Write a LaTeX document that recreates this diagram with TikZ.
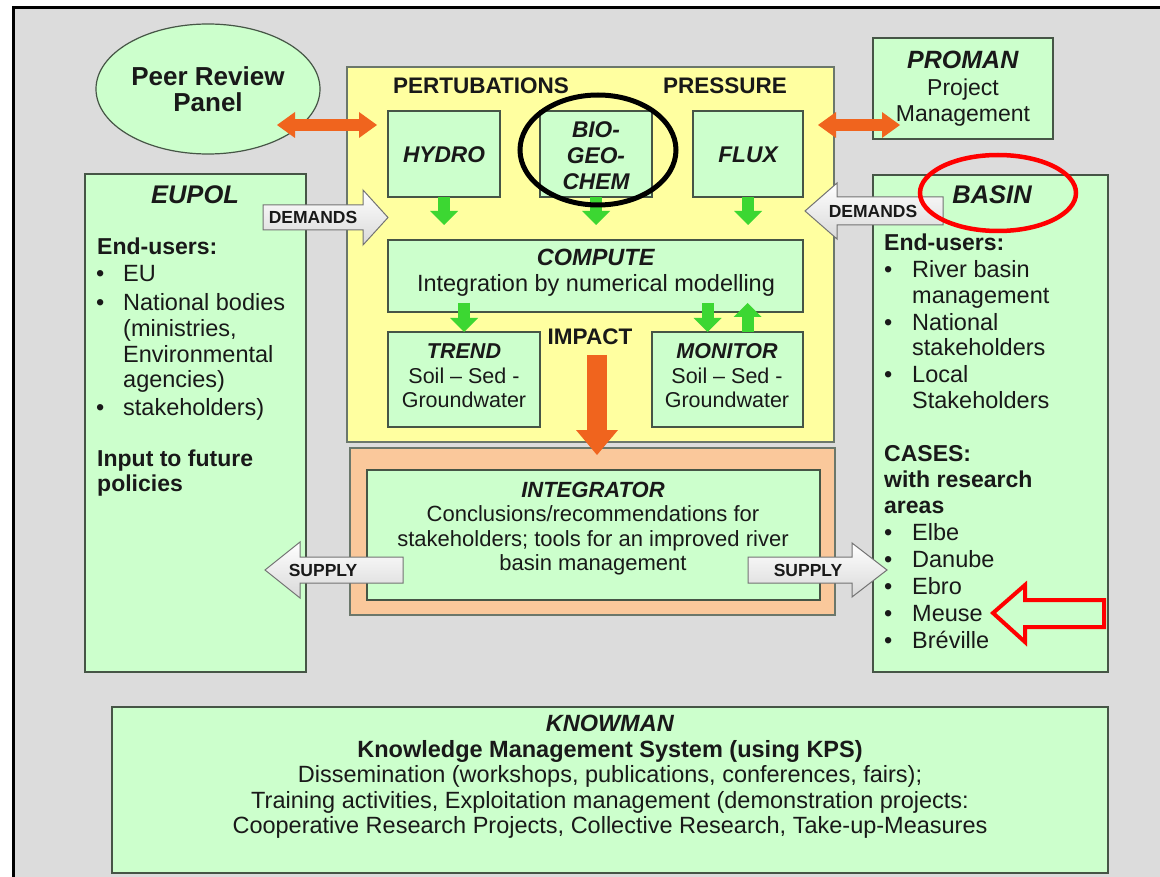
\documentclass[tikz,border=0pt]{standalone}
\usepackage{fontspec}
\setmainfont{Liberation Sans}
\usetikzlibrary{arrows.meta,fit,shapes.geometric}
\definecolor{bggray}{RGB}{220,220,220}
\definecolor{lgreen}{RGB}{204,255,204}
\definecolor{pyellow}{RGB}{255,255,160}
\definecolor{porange}{RGB}{250,200,155}
\definecolor{borange}{RGB}{240,100,30}
\definecolor{bgreen}{RGB}{60,215,50}
\definecolor{edgecol}{RGB}{70,85,70}
\definecolor{txtcol}{RGB}{25,25,25}
\begin{document}
\begin{tikzpicture}[x=1pt,y=-1pt,
  every node/.style={text=txtcol},
  box/.style={draw=edgecol, line width=1.3pt, fill=lgreen, inner sep=0pt, outer sep=0pt},
  panel/.style={draw=edgecol!80, line width=1.2pt, inner sep=0pt, outer sep=0pt},
  ttl/.style={font=\fontsize{22.7}{26}\selectfont\bfseries\itshape, inner sep=0pt, align=center},
  bigttl/.style={font=\fontsize{25.5}{28}\selectfont\bfseries\itshape, inner sep=0pt},
  txt/.style={inner sep=0pt, align=center},
  lst/.style={font=\fontsize{23.5}{26}\selectfont, inner sep=0pt, anchor=base west},
  blst/.style={font=\fontsize{23}{26}\selectfont\bfseries, inner sep=0pt, anchor=base west},
  hdr/.style={font=\fontsize{22.5}{26}\selectfont\bfseries, inner sep=0pt},
  garrow/.style={draw=bgreen, line width=12pt, -{Triangle[width=28pt,length=14pt,line width=0pt]}},
  oarrow/.style={draw=borange, line width=12pt, {Triangle[width=26pt,length=18pt,line width=0pt]}-{Triangle[width=26pt,length=18pt,line width=0pt]}},
  iarrow/.style={draw=borange, line width=20pt, -{Triangle[width=42pt,length=25pt,line width=0pt]}},
  warrow/.style={draw=black!55, line width=1pt, top color=white, bottom color=black!15, line join=miter},
  wlabel/.style={font=\fontsize{17.5}{20}\selectfont\bfseries, inner sep=0pt}
]
\useasboundingbox (0,0) rectangle (1160,877);
% background
\fill[white] (0,0) rectangle (1160,877);
\fill[bggray] (14,8) rectangle (1160,877);
\draw[black, line width=3pt] (13.5,877) -- (13.5,8) -- (1160,8);

% panels
\node[panel, fill=pyellow, fit={(347,67) (834,442)}] (pert) {};
\node[panel, fill=porange, fit={(350,448) (835,615)}] (intpanel) {};
\node[hdr] (pertlab) at (481,86) {PERTUBATIONS};
\node[hdr] (preslab) at (725,86) {PRESSURE};
\node[hdr] (impact) at (590,337) {IMPACT};

% peer review
\node[ellipse, draw=edgecol, line width=1.2pt, fill=lgreen, minimum width=224pt, minimum height=130pt, inner sep=0pt, align=center, font=\fontsize{26}{26}\selectfont\bfseries] (peer) at (208,89) {Peer Review\\Panel};

% inner boxes
\node[box, fit={(388,111) (500,197)}] (hydro) {};
\node[box, fit={(540,111) (652,197)}] (bio) {};
\node[box, fit={(693,111) (803,197)}] (flux) {};
\node[ttl] (hydrotxt) at (444,155) {HYDRO};
\node[ttl] (biotxt) at (596,156) {BIO-\\GEO-\\CHEM};
\node[ttl] (fluxtxt) at (748,155) {FLUX};
\node[box, fit={(388,240) (803,312)}] (compute) {};
\node[txt, font=\fontsize{23.5}{26}\selectfont] (comptxt) at (596,273) {\textbf{\textit{COMPUTE}}\\Integration by numerical modelling};
\node[box, fit={(388,332) (540,427)}] (trend) {};
\node[box, fit={(652,332) (803,427)}] (monitor) {};
\node[txt, font=\fontsize{21.5}{24.5}\selectfont] (trendtxt) at (464,376) {\textbf{\textit{TREND}}\\Soil – Sed -\\Groundwater};
\node[txt, font=\fontsize{21.5}{24.5}\selectfont] (montxt) at (727,376) {\textbf{\textit{MONITOR}}\\Soil – Sed -\\Groundwater};
\node[box, fit={(367,470) (820,600)}] (integ) {};
\node[txt, font=\fontsize{22}{24.3}\selectfont] (integtxt) at (593,528.5) {\textbf{\textit{INTEGRATOR}}\\Conclusions/recommendations for\\stakeholders; tools for an improved river\\basin management};

% side boxes
\node[box, fit={(873,38) (1053,139)}] (proman) {};
\node[txt, font=\fontsize{23}{26.5}\selectfont] (promantxt) at (963,89) {{\fontsize{25}{26.5}\selectfont\textbf{\textit{PROMAN}}}\\Project\\Management};
\node[box, fit={(85,174) (306,672)}] (eupol) {};
\node[box, fit={(873,175) (1108,672)}] (basin) {};
\node[box, fit={(112,707) (1108,873)}] (knowman) {};
\node[txt, font=\fontsize{23.5}{25.5}\selectfont] (knowtxt) at (610,777) {\textbf{\textit{KNOWMAN}}\\\textbf{Knowledge Management System (using KPS)}\\Dissemination (workshops, publications, conferences, fairs);\\Training activities, Exploitation management (demonstration projects:\\Cooperative Research Projects, Collective Research, Take-up-Measures};

% EUPOL text
\node[bigttl] (eupolttl) at (195,195) {EUPOL};
\node[blst] (eu1) at (97,255) {End-users:};
\foreach \yy/\lbl [count=\i] in {282/EU, 311/National bodies, 416/stakeholders)}{
  \node[lst] (eub\i) at (96,\yy) {•};
  \node[lst] (eut\i) at (123,\yy) {\lbl};
}
\node[lst] (eu2) at (123,337) {(ministries,};
\node[lst] (eu3) at (123,363) {Environmental};
\node[lst] (eu4) at (123,388) {agencies)};
\node[blst] (eu5) at (97,466) {Input to future};
\node[blst] (eu6) at (97,491) {policies};

% BASIN text
\node[bigttl] (basinttl) at (992,195) {BASIN};
\node[blst] (ba1) at (884,251) {End-users:};
\foreach \yy/\lbl [count=\i] in {278/River basin, 331/National, 383/Local, 540/Elbe, 567/Danube, 594/Ebro, 621/Meuse, 648/Bréville}{
  \node[lst] (bab\i) at (884,\yy) {•};
  \node[lst] (bat\i) at (912,\yy) {\lbl};
}
\node[lst] (ba2) at (912,304) {management};
\node[lst] (ba3) at (912,356) {stakeholders};
\node[lst] (ba4) at (912,409) {Stakeholders};
\node[blst] (ba5) at (884,461) {CASES:};
\node[blst] (ba6) at (884,487) {with research};
\node[blst] (ba7) at (884,513) {areas};

% green arrows
\draw[garrow, shorten >=15pt] (hydro.south) -- (hydro.south |- compute.north);
\draw[garrow, shorten >=15pt] (bio.south) -- (bio.south |- compute.north);
\draw[garrow, shorten >=15pt] (flux.south) -- (flux.south |- compute.north);
\draw[garrow] ([yshift=9pt]trend.north |- compute.south) -- (trend.north);
\draw[garrow] ([xshift=-20pt,yshift=9pt]monitor.north |- compute.south) -- ([xshift=-20pt]monitor.north);
\draw[garrow] ([xshift=20pt]monitor.north) -- ([xshift=20pt,yshift=9pt]monitor.north |- compute.south);

% orange arrows
\coordinate (pa1) at (277,125);
\coordinate (pa2) at (377,125);
\coordinate (pb1) at (818,125);
\coordinate (pb2) at (900,125);
\draw[oarrow] (pa1) -- (pa2);
\draw[oarrow] (pb1) -- (pb2);
\coordinate (is) at (597,355);
\draw[iarrow] (is) -- ([yshift=-7pt]is |- intpanel.north);

% white block arrows
\path[warrow] (263,205) -- (363,205) -- (363,190) -- (388,217.5) -- (363,245) -- (363,230) -- (263,230) -- cycle;
\node[wlabel] (dem1) at (313,217.5) {DEMANDS};
\path[warrow] (943,197) -- (837,197) -- (837,183) -- (805,211) -- (837,239) -- (837,225) -- (943,225) -- cycle;
\node[wlabel] (dem2) at (873,211) {DEMANDS};
\path[warrow] (403,557) -- (300,557) -- (300,542) -- (265,570) -- (300,598) -- (300,583) -- (403,583) -- cycle;
\node[wlabel] (sup1) at (323,570) {SUPPLY};
\path[warrow] (748,557) -- (852,557) -- (852,543) -- (887,570) -- (852,597) -- (852,583) -- (748,583) -- cycle;
\node[wlabel] (sup2) at (808,570) {SUPPLY};

% annotations
\draw[black, line width=5pt] (598,150) ellipse [x radius=78pt, y radius=55pt];
\draw[red, line width=4.5pt] (998,193) ellipse [x radius=78pt, y radius=38pt];
\draw[red, line width=4pt, line join=miter] (993,613) -- (1025,585) -- (1025,600) -- (1104,600) -- (1104,627) -- (1025,627) -- (1025,642) -- cycle;
\end{tikzpicture}
\end{document}
